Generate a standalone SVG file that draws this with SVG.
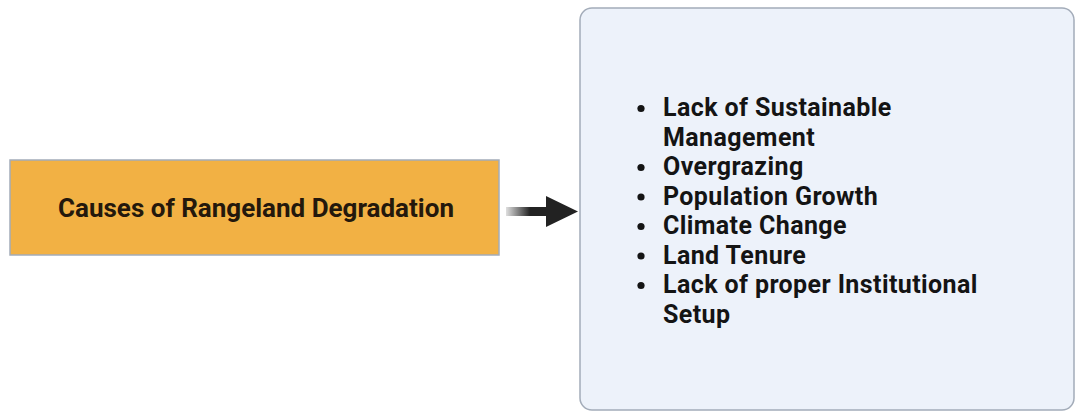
<svg xmlns="http://www.w3.org/2000/svg" width="1077" height="413" viewBox="0 0 1077 413">
<style>
.box{stroke:#a3acb9;stroke-width:1.5}
.title{font-family:Roboto,"Liberation Sans",sans-serif;font-weight:bold;font-size:26px;fill:#24180c}
.item{font-family:Roboto,"Liberation Sans",sans-serif;font-weight:bold;font-size:25px;letter-spacing:0.4px;fill:#141414}
.dot{fill:#141414}
</style>
<defs>
<linearGradient id="shaft" x1="506" y1="0" x2="550" y2="0" gradientUnits="userSpaceOnUse">
<stop offset="0" stop-color="#2a2a2a" stop-opacity="0.15"/>
<stop offset="0.55" stop-color="#222" stop-opacity="1"/>
<stop offset="1" stop-color="#222"/>
</linearGradient>
</defs>
<rect width="1077" height="413" fill="#ffffff"/>
<g id="causes">
<rect class="box" x="10" y="160" width="489" height="95" fill="#f2b144"/>
<text class="title" x="256" y="217" text-anchor="middle">Causes of Rangeland Degradation</text>
</g>
<g id="connectors">
<rect x="506" y="207" width="44" height="9" fill="url(#shaft)"/>
<polygon points="546,196 578,211.5 546,227" fill="#222"/>
</g>
<g id="list">
<rect class="box" x="580" y="8" width="494" height="402" rx="12" fill="#edf2fa"/>
<g>
<circle class="dot" cx="641" cy="108.5" r="3.6"/>
<circle class="dot" cx="641" cy="167.5" r="3.6"/>
<circle class="dot" cx="641" cy="197" r="3.6"/>
<circle class="dot" cx="641" cy="226.5" r="3.6"/>
<circle class="dot" cx="641" cy="256" r="3.6"/>
<circle class="dot" cx="641" cy="285.5" r="3.6"/>
</g>
<text class="item" x="663" y="116">Lack of Sustainable</text>
<text class="item" x="663" y="145.5">Management</text>
<text class="item" x="663" y="175">Overgrazing</text>
<text class="item" x="663" y="204.5">Population Growth</text>
<text class="item" x="663" y="234">Climate Change</text>
<text class="item" x="663" y="263.5">Land Tenure</text>
<text class="item" x="663" y="293">Lack of proper Institutional</text>
<text class="item" x="663" y="322.5">Setup</text>
</g>
</svg>
